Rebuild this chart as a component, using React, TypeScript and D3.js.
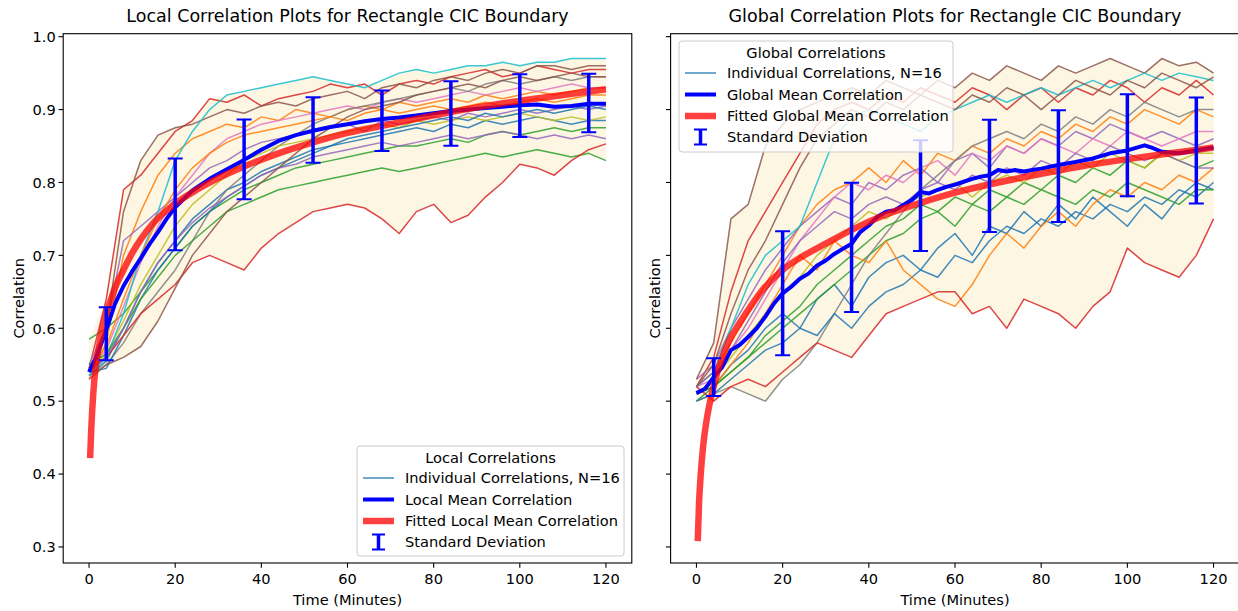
import React from 'react';
import * as d3 from 'd3';

// ---------- DATA ----------
const TIME = [0, 4, 8, 12, 16, 20, 24, 28, 32, 36, 40, 44, 48, 52, 56, 60, 64, 68, 72, 76, 80, 84, 88, 92, 96, 100, 104, 108, 112, 116, 120];

const LOCAL_SERIES = [
  [0.535,0.555,0.60,0.65,0.69,0.72,0.75,0.77,0.79,0.80,0.815,0.825,0.835,0.845,0.85,0.855,0.86,0.865,0.87,0.875,0.87,0.88,0.875,0.885,0.88,0.885,0.89,0.885,0.88,0.885,0.885],
  [0.53,0.58,0.70,0.76,0.81,0.84,0.86,0.87,0.88,0.875,0.89,0.885,0.90,0.895,0.89,0.90,0.905,0.90,0.91,0.905,0.91,0.915,0.91,0.92,0.915,0.92,0.925,0.92,0.925,0.93,0.93],
  [0.585,0.60,0.62,0.65,0.68,0.71,0.74,0.76,0.775,0.79,0.80,0.81,0.82,0.825,0.83,0.835,0.84,0.845,0.85,0.85,0.855,0.86,0.855,0.865,0.87,0.865,0.87,0.875,0.87,0.875,0.875],
  [0.545,0.64,0.79,0.81,0.84,0.87,0.885,0.915,0.91,0.92,0.905,0.915,0.92,0.925,0.935,0.93,0.935,0.92,0.935,0.94,0.935,0.945,0.95,0.955,0.945,0.95,0.96,0.955,0.95,0.955,0.955],
  [0.55,0.60,0.72,0.74,0.76,0.78,0.80,0.82,0.83,0.845,0.855,0.86,0.865,0.87,0.875,0.88,0.87,0.885,0.88,0.885,0.89,0.885,0.895,0.89,0.895,0.90,0.895,0.90,0.905,0.90,0.905],
  [0.54,0.60,0.76,0.83,0.865,0.875,0.88,0.89,0.90,0.895,0.905,0.91,0.905,0.915,0.92,0.925,0.915,0.93,0.935,0.93,0.94,0.945,0.94,0.95,0.955,0.95,0.96,0.96,0.955,0.96,0.96],
  [0.545,0.57,0.63,0.69,0.74,0.78,0.81,0.84,0.86,0.87,0.88,0.885,0.89,0.895,0.90,0.905,0.90,0.91,0.915,0.91,0.915,0.92,0.925,0.92,0.925,0.93,0.925,0.93,0.935,0.93,0.93],
  [0.535,0.55,0.58,0.62,0.65,0.68,0.72,0.76,0.79,0.81,0.83,0.85,0.865,0.88,0.89,0.90,0.905,0.91,0.915,0.92,0.925,0.93,0.925,0.935,0.94,0.935,0.94,0.945,0.94,0.945,0.945],
  [0.54,0.565,0.61,0.66,0.70,0.74,0.77,0.79,0.81,0.83,0.84,0.85,0.855,0.86,0.865,0.87,0.875,0.88,0.875,0.885,0.88,0.885,0.89,0.885,0.89,0.895,0.89,0.885,0.89,0.885,0.89],
  [0.535,0.56,0.62,0.70,0.76,0.83,0.87,0.90,0.92,0.925,0.93,0.935,0.94,0.945,0.94,0.935,0.93,0.94,0.95,0.955,0.95,0.955,0.96,0.96,0.965,0.96,0.965,0.965,0.97,0.97,0.97],
  [0.54,0.545,0.59,0.64,0.68,0.71,0.74,0.76,0.78,0.795,0.81,0.82,0.83,0.84,0.85,0.86,0.865,0.87,0.875,0.88,0.885,0.89,0.885,0.895,0.89,0.895,0.90,0.895,0.90,0.905,0.90],
  [0.545,0.575,0.64,0.70,0.75,0.79,0.82,0.84,0.855,0.865,0.87,0.875,0.88,0.885,0.89,0.885,0.895,0.90,0.895,0.90,0.905,0.90,0.905,0.91,0.905,0.91,0.915,0.91,0.915,0.92,0.92],
  [0.55,0.565,0.60,0.64,0.67,0.70,0.72,0.74,0.76,0.77,0.78,0.79,0.795,0.80,0.805,0.81,0.815,0.82,0.815,0.82,0.825,0.83,0.835,0.84,0.835,0.84,0.845,0.84,0.835,0.84,0.83],
  [0.545,0.56,0.59,0.62,0.64,0.66,0.69,0.70,0.69,0.68,0.71,0.73,0.745,0.76,0.765,0.77,0.765,0.75,0.73,0.76,0.77,0.745,0.755,0.78,0.80,0.825,0.82,0.81,0.83,0.845,0.853],
  [0.54,0.56,0.60,0.65,0.69,0.72,0.745,0.765,0.78,0.795,0.81,0.82,0.825,0.835,0.84,0.845,0.85,0.855,0.85,0.855,0.86,0.865,0.86,0.865,0.87,0.865,0.86,0.865,0.86,0.865,0.86],
  [0.53,0.55,0.56,0.575,0.61,0.655,0.70,0.73,0.76,0.78,0.80,0.82,0.84,0.86,0.875,0.89,0.90,0.905,0.91,0.92,0.925,0.93,0.935,0.93,0.94,0.945,0.94,0.945,0.95,0.945,0.945],
];

const GLOBAL_SERIES = [
  [0.51,0.52,0.55,0.57,0.60,0.62,0.60,0.64,0.66,0.63,0.67,0.69,0.70,0.68,0.71,0.73,0.70,0.74,0.73,0.76,0.74,0.77,0.75,0.78,0.76,0.74,0.77,0.75,0.78,0.80,0.79],
  [0.52,0.54,0.58,0.62,0.66,0.70,0.74,0.77,0.79,0.80,0.82,0.80,0.83,0.81,0.84,0.83,0.85,0.84,0.86,0.85,0.87,0.86,0.88,0.87,0.89,0.88,0.90,0.89,0.88,0.90,0.89],
  [0.50,0.52,0.54,0.56,0.58,0.60,0.62,0.64,0.66,0.68,0.70,0.72,0.73,0.75,0.76,0.74,0.77,0.79,0.78,0.80,0.79,0.81,0.80,0.82,0.81,0.83,0.82,0.84,0.83,0.82,0.83],
  [0.52,0.56,0.65,0.72,0.76,0.80,0.84,0.88,0.90,0.91,0.90,0.92,0.91,0.93,0.92,0.91,0.93,0.92,0.90,0.92,0.93,0.91,0.93,0.92,0.94,0.93,0.91,0.93,0.92,0.94,0.92],
  [0.53,0.55,0.60,0.64,0.68,0.71,0.74,0.76,0.78,0.77,0.80,0.79,0.81,0.82,0.80,0.83,0.84,0.82,0.85,0.84,0.86,0.85,0.87,0.86,0.88,0.87,0.86,0.87,0.86,0.85,0.86],
  [0.53,0.58,0.75,0.77,0.85,0.88,0.90,0.91,0.92,0.93,0.92,0.94,0.93,0.92,0.94,0.93,0.95,0.94,0.96,0.95,0.94,0.96,0.95,0.96,0.97,0.96,0.95,0.97,0.96,0.965,0.95],
  [0.52,0.53,0.57,0.60,0.64,0.68,0.72,0.75,0.78,0.80,0.79,0.81,0.80,0.82,0.83,0.81,0.84,0.83,0.85,0.84,0.86,0.85,0.84,0.86,0.85,0.87,0.86,0.85,0.86,0.87,0.87],
  [0.50,0.51,0.52,0.51,0.50,0.53,0.55,0.58,0.62,0.66,0.70,0.73,0.76,0.79,0.81,0.83,0.85,0.86,0.87,0.86,0.88,0.87,0.89,0.88,0.90,0.89,0.91,0.90,0.89,0.90,0.90],
  [0.51,0.53,0.56,0.59,0.62,0.65,0.67,0.70,0.72,0.74,0.76,0.75,0.77,0.78,0.79,0.80,0.78,0.80,0.81,0.80,0.82,0.81,0.83,0.82,0.84,0.83,0.82,0.84,0.83,0.84,0.84],
  [0.52,0.54,0.60,0.66,0.70,0.72,0.74,0.80,0.86,0.89,0.90,0.89,0.88,0.87,0.89,0.90,0.91,0.92,0.91,0.92,0.93,0.92,0.93,0.94,0.93,0.94,0.95,0.94,0.95,0.945,0.94],
  [0.50,0.51,0.53,0.55,0.57,0.58,0.60,0.59,0.62,0.60,0.63,0.65,0.66,0.68,0.67,0.70,0.69,0.72,0.74,0.73,0.75,0.74,0.76,0.75,0.77,0.76,0.78,0.77,0.79,0.78,0.80],
  [0.51,0.52,0.55,0.58,0.62,0.66,0.70,0.68,0.72,0.70,0.69,0.72,0.68,0.66,0.64,0.63,0.66,0.70,0.73,0.71,0.74,0.76,0.74,0.77,0.79,0.78,0.80,0.79,0.81,0.80,0.82],
  [0.51,0.52,0.54,0.56,0.59,0.61,0.63,0.66,0.68,0.70,0.72,0.74,0.75,0.77,0.76,0.78,0.77,0.76,0.78,0.77,0.79,0.78,0.77,0.79,0.78,0.80,0.79,0.78,0.77,0.79,0.79],
  [0.52,0.50,0.52,0.53,0.52,0.54,0.56,0.58,0.57,0.56,0.59,0.62,0.63,0.64,0.65,0.65,0.62,0.63,0.60,0.64,0.63,0.62,0.60,0.63,0.65,0.71,0.69,0.68,0.67,0.70,0.75],
  [0.52,0.54,0.57,0.61,0.65,0.69,0.72,0.74,0.76,0.75,0.77,0.78,0.77,0.79,0.80,0.79,0.81,0.80,0.82,0.81,0.83,0.82,0.84,0.83,0.85,0.84,0.83,0.84,0.83,0.82,0.82],
  [0.52,0.55,0.62,0.68,0.72,0.77,0.82,0.86,0.88,0.90,0.89,0.91,0.90,0.92,0.91,0.90,0.92,0.91,0.93,0.92,0.90,0.92,0.94,0.93,0.92,0.94,0.93,0.95,0.94,0.93,0.945],
];

const LOCAL_MEAN_T = [0,2,4,6,8,10,12,14,16,18,20,24,28,32,36,40,44,48,52,56,60,64,68,72,76,80,84,88,92,96,100,104,108,112,116,120];
const LOCAL_MEAN = [0.540,0.565,0.598,0.633,0.658,0.678,0.696,0.715,0.732,0.750,0.766,0.789,0.805,0.818,0.831,0.845,0.857,0.865,0.871,0.876,0.880,0.884,0.887,0.889,0.892,0.895,0.898,0.900,0.902,0.904,0.906,0.907,0.904,0.905,0.908,0.908];

const GLOBAL_MEAN_T = [0,2,4,6,8,10,12,14,16,18,20,22,24,26,28,30,32,34,36,38,40,42,44,46,48,50,52,54,56,58,60,62,64,66,68,70,72,74,76,78,80,84,88,92,96,100,104,106,108,112,116,120];
const GLOBAL_MEAN = [0.511,0.517,0.533,0.547,0.570,0.577,0.588,0.600,0.616,0.634,0.648,0.657,0.668,0.675,0.686,0.693,0.702,0.709,0.716,0.732,0.741,0.753,0.760,0.762,0.769,0.776,0.787,0.785,0.790,0.794,0.797,0.801,0.805,0.808,0.810,0.817,0.815,0.817,0.815,0.817,0.819,0.824,0.828,0.833,0.840,0.844,0.851,0.847,0.842,0.840,0.844,0.848];

const LOCAL_FIT_T = [0.25,0.5,1,1.5,2,3,4,5,6,8,10,12,15,20,25,30,36,44,52,60,70,80,90,100,110,120];
const LOCAL_FIT = [0.422,0.46,0.512,0.545,0.565,0.595,0.62,0.638,0.655,0.68,0.703,0.722,0.745,0.771,0.79,0.806,0.822,0.84,0.855,0.868,0.88,0.892,0.903,0.912,0.92,0.928];

const GLOBAL_FIT_T = [0.3,0.6,1,1.5,2,3,4,5,6,8,10,12,15,20,25,30,36,44,52,60,70,80,90,100,110,120];
const GLOBAL_FIT = [0.308,0.36,0.40,0.435,0.46,0.495,0.52,0.543,0.56,0.588,0.607,0.625,0.65,0.68,0.70,0.716,0.735,0.756,0.772,0.786,0.80,0.812,0.823,0.832,0.84,0.848];

const ERR_T = [4, 20, 36, 52, 68, 84, 100, 116];
const LOCAL_ERR_MEAN = [0.5925, 0.770, 0.8316, 0.872, 0.8847, 0.8947, 0.9055, 0.909];
const LOCAL_ERR_STD = [0.0365, 0.063, 0.0547, 0.045, 0.0414, 0.0442, 0.043, 0.040];
const GLOBAL_ERR_MEAN = [0.533, 0.648, 0.711, 0.782, 0.809, 0.8225, 0.851, 0.844];
const GLOBAL_ERR_STD = [0.026, 0.085, 0.0887, 0.076, 0.077, 0.0766, 0.070, 0.0727];

const X_TICKS = [0, 20, 40, 60, 80, 100, 120];
const Y_TICKS = [0.3, 0.4, 0.5, 0.6, 0.7, 0.8, 0.9, 1.0];

const TITLES = ['Local Correlation Plots for Rectangle CIC Boundary', 'Global Correlation Plots for Rectangle CIC Boundary'];
const LEGEND_TITLES = ['Local Correlations', 'Global Correlations'];
const LEGEND_LABELS = [
  ['Individual Correlations, N=16', 'Local Mean Correlation', 'Fitted Local Mean Correlation', 'Standard Deviation'],
  ['Individual Correlations, N=16', 'Global Mean Correlation', 'Fitted Global Mean Correlation', 'Standard Deviation'],
];

// ---------- LAYOUT ----------
const W = 1238, H = 611;
const TOP = 33.7, BOTTOM = 563;
const FONT = 'DejaVu Sans, sans-serif';
const FS = 14.6;
const TITLE_FS = 17.5;
const COLORS = d3.schemeCategory10;

const yScale = d3.scaleLinear().domain([0.278, 1.0041]).range([BOTTOM, TOP]);

type PanelProps = {
  left: number; right: number; series: number[][];
  meanT: number[]; mean: number[]; fitT: number[]; fit: number[];
  errMean: number[]; errStd: number[]; title: string;
  legendTitle: string; legendLabels: string[];
  legend: { x: number; y: number; w: number; h: number };
  showYLabels: boolean; ylabelX: number;
};

function Panel(p: PanelProps) {
  const x = d3.scaleLinear().domain([-6, 126]).range([p.left, p.right]);
  const lo = TIME.map((_, i) => d3.min(p.series, s => s[i]) as number);
  const hi = TIME.map((_, i) => d3.max(p.series, s => s[i]) as number);
  const area = d3.area<number>().x((_, i) => x(TIME[i])).y0((_, i) => yScale(lo[i])).y1((_, i) => yScale(hi[i]));
  const line = d3.line<number>().x((_, i) => x(TIME[i])).y(d => yScale(d));
  const meanLine = d3.line<number>().x((_, i) => x(p.meanT[i])).y(d => yScale(d));
  const fitLine = d3.line<number>().x((_, i) => x(p.fitT[i])).y(d => yScale(d)).curve(d3.curveMonotoneX);
  const cx = (p.left + p.right) / 2;
  const cy = (TOP + BOTTOM) / 2;
  const lg = p.legend;
  const rowY = [lg.y + 32, lg.y + 53.5, lg.y + 75, lg.y + 96];
  const hx0 = lg.x + 6, hx1 = lg.x + 37, tx = lg.x + 48;
  const clipId = 'clip' + Math.round(p.left);
  return (
    <g>
      <defs>
        <clipPath id={clipId}><rect x={p.left} y={TOP} width={p.right - p.left} height={BOTTOM - TOP} /></clipPath>
      </defs>
      <g clipPath={`url(#${clipId})`}>
        <path d={area(lo) || ''} fill="#fdf6e2" stroke="none" />
        {p.series.map((s, k) => (
          <path key={k} d={line(s) || ''} fill="none" stroke={COLORS[k % 10]} strokeWidth={1.5} strokeOpacity={0.85} strokeLinejoin="round" />
        ))}
        <path d={meanLine(p.mean) || ''} fill="none" stroke="#0000ff" strokeWidth={4} strokeLinejoin="round" />
        <path d={fitLine(p.fit) || ''} fill="none" stroke="#ff0000" strokeOpacity={0.75} strokeWidth={6.5} />
        {ERR_T.map((t, i) => {
          const xx = x(t);
          const y0 = yScale(p.errMean[i] - p.errStd[i]);
          const y1 = yScale(p.errMean[i] + p.errStd[i]);
          return (
            <g key={i} stroke="#0000ff">
              <line x1={xx} x2={xx} y1={y0} y2={y1} strokeWidth={3.5} />
              <line x1={xx - 7.5} x2={xx + 7.5} y1={y0} y2={y0} strokeWidth={2} />
              <line x1={xx - 7.5} x2={xx + 7.5} y1={y1} y2={y1} strokeWidth={2} />
            </g>
          );
        })}
      </g>
      <rect x={p.left} y={TOP} width={p.right - p.left} height={BOTTOM - TOP} fill="none" stroke="#000" strokeWidth={1.1} />
      {X_TICKS.map(t => (
        <g key={t}>
          <line x1={x(t)} x2={x(t)} y1={BOTTOM} y2={BOTTOM + 4.7} stroke="#000" strokeWidth={1.1} />
          <text x={x(t)} y={BOTTOM + 20.5} textAnchor="middle" fontSize={FS} fontFamily={FONT} fill="#000">{t}</text>
        </g>
      ))}
      {Y_TICKS.map(t => (
        <g key={t}>
          <line x1={p.left - 4.7} x2={p.left} y1={yScale(t)} y2={yScale(t)} stroke="#000" strokeWidth={1.1} />
          {p.showYLabels && (
            <text x={p.left - 7.5} y={yScale(t) + 5.3} textAnchor="end" fontSize={FS} fontFamily={FONT} fill="#000">{t.toFixed(1)}</text>
          )}
        </g>
      ))}
      <text x={cx} y={605} textAnchor="middle" fontSize={FS} fontFamily={FONT} fill="#000">Time (Minutes)</text>
      <text transform={`translate(${p.ylabelX},${cy}) rotate(-90)`} textAnchor="middle" fontSize={FS} fontFamily={FONT} fill="#000">Correlation</text>
      <text x={cx} y={22} textAnchor="middle" fontSize={TITLE_FS} fontFamily={FONT} fill="#000">{p.title}</text>
      <g>
        <rect x={lg.x} y={lg.y} width={lg.w} height={lg.h} rx={3} fill="#ffffff" fillOpacity={0.8} stroke="#cccccc" strokeWidth={1} />
        <text x={lg.x + lg.w / 2} y={lg.y + 16.5} textAnchor="middle" fontSize={FS} fontFamily={FONT} fill="#000">{p.legendTitle}</text>
        <line x1={hx0} x2={hx1} y1={rowY[0]} y2={rowY[0]} stroke={COLORS[0]} strokeOpacity={0.85} strokeWidth={1.5} />
        <line x1={hx0} x2={hx1} y1={rowY[1]} y2={rowY[1]} stroke="#0000ff" strokeWidth={4} />
        <line x1={hx0} x2={hx1} y1={rowY[2]} y2={rowY[2]} stroke="#ff0000" strokeOpacity={0.75} strokeWidth={6.5} />
        <g stroke="#0000ff">
          <line x1={(hx0 + hx1) / 2} x2={(hx0 + hx1) / 2} y1={rowY[3] - 7.5} y2={rowY[3] + 7.5} strokeWidth={3.5} />
          <line x1={(hx0 + hx1) / 2 - 6.5} x2={(hx0 + hx1) / 2 + 6.5} y1={rowY[3] - 7.5} y2={rowY[3] - 7.5} strokeWidth={2} />
          <line x1={(hx0 + hx1) / 2 - 6.5} x2={(hx0 + hx1) / 2 + 6.5} y1={rowY[3] + 7.5} y2={rowY[3] + 7.5} strokeWidth={2} />
        </g>
        {p.legendLabels.map((l, i) => (
          <text key={i} x={tx} y={rowY[i] + 5.2} fontSize={FS} fontFamily={FONT} fill="#000">{l}</text>
        ))}
      </g>
    </g>
  );
}

export default function App() {
  return (
    <svg width={W} height={H} viewBox={`0 0 ${W} ${H}`} style={{ position: 'absolute', left: 0, top: 0, background: '#fff' }}>
      <rect x={0} y={0} width={W} height={H} fill="#fff" />
      <Panel left={63.2} right={631.8} series={LOCAL_SERIES} meanT={LOCAL_MEAN_T} mean={LOCAL_MEAN}
        fitT={LOCAL_FIT_T} fit={LOCAL_FIT} errMean={LOCAL_ERR_MEAN} errStd={LOCAL_ERR_STD}
        title={TITLES[0]} legendTitle={LEGEND_TITLES[0]} legendLabels={LEGEND_LABELS[0]}
        legend={{ x: 357, y: 446, w: 267, h: 110 }} showYLabels={true} ylabelX={24} />
      <Panel left={670.6} right={1239.4} series={GLOBAL_SERIES} meanT={GLOBAL_MEAN_T} mean={GLOBAL_MEAN}
        fitT={GLOBAL_FIT_T} fit={GLOBAL_FIT} errMean={GLOBAL_ERR_MEAN} errStd={GLOBAL_ERR_STD}
        title={TITLES[1]} legendTitle={LEGEND_TITLES[1]} legendLabels={LEGEND_LABELS[1]}
        legend={{ x: 679, y: 41, w: 274, h: 111 }} showYLabels={false} ylabelX={660} />
    </svg>
  );
}
